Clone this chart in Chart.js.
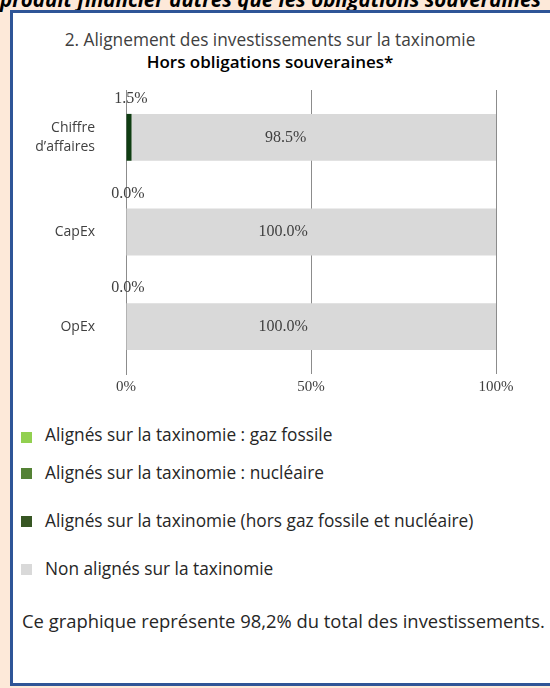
<!DOCTYPE html>
<html>
<head>
<meta charset="utf-8">
<script src="https://cdn.jsdelivr.net/npm/chart.js@4.4.1/dist/chart.umd.min.js"></script>
<style>
  body { margin: 0; width: 550px; height: 688px; background: #fde9d9; overflow: hidden; position: relative; font-family: "Open Sans", sans-serif; }
  #top { position: absolute; left: 0; top: -15px; white-space: nowrap; font: italic bold 20.5px "Open Sans", sans-serif; color: #000; }
  #box { position: absolute; left: 10px; top: 10px; width: 560px; height: 670px; background: #fff; border: 3px solid #2f5597; }
  #t1 { position: absolute; left: 0; width: 540px; top: 28px; text-align: center; font-size: 17.3px; color: #404040; }
  #t2 { position: absolute; left: 0; width: 540px; top: 50px; text-align: center; font-size: 17px; font-weight: 600; color: #000; }
  #myChart { position: absolute; left: 0; top: 80px; }
  #legend { position: absolute; left: 21px; top: 424px; font-size: 17.3px; color: #262626; }
  #legend div { position: relative; height: 22px; line-height: 22px; padding-left: 24px; white-space: nowrap; }
  #legend div span { position: absolute; left: 0; top: 6px; width: 11px; height: 11px; }
  #legend div:nth-child(1) span { top: 8px; }
  #legend div:nth-child(2) { margin-top: 16px; }
  #legend div:nth-child(3) { margin-top: 26px; }
  #legend div:nth-child(4) { margin-top: 26px; }
  #foot { position: absolute; left: 22px; top: 608px; font-size: 18.4px; color: #262626; white-space: nowrap; }
</style>
</head>
<body>
<div id="top">produit financier autres que les obligations souveraines</div>
<div id="box"></div>
<div id="t1">2. Alignement des investissements sur la taxinomie</div>
<div id="t2">Hors obligations souveraines*</div>
<canvas id="myChart" width="550" height="324"></canvas>
<div id="legend"></div>
<div id="foot">Ce graphique représente 98,2% du total des investissements.</div>
<script>
const categories = [["Chiffre", "d\u2019affaires"], "CapEx", "OpEx"];
const gazFossile = [0, 0, 0];
const nucleaire = [0, 0, 0];
const horsGazNucleaire = [1.5, 0, 0];
const nonAlignes = [98.5, 100, 100];
const xTicks = [0, 50, 100];

// labels: dark green above the bar, grey inside (left of centre like the original)
const labelPlugin = {
  id: "labels",
  afterDatasetsDraw(chart) {
    const ctx = chart.ctx;
    ctx.save();
    ctx.font = "16px 'Liberation Serif', serif";
    ctx.fillStyle = "#404040";
    ctx.textAlign = "center";
    ctx.textBaseline = "middle";
    chart.getDatasetMeta(2).data.forEach((bar, i) => {
      const x = (bar.x + bar.base) / 2 + 2;
      ctx.fillText(horsGazNucleaire[i].toFixed(1) + "%", x, bar.y - bar.height / 2 - 15);
    });
    chart.getDatasetMeta(3).data.forEach((bar, i) => {
      const x = (bar.x + bar.base) / 2 - 28;
      ctx.fillText(nonAlignes[i].toFixed(1) + "%", x, bar.y);
    });
    ctx.restore();
  }
};

const chart = new Chart("myChart", {
  type: "bar",
  data: {
    labels: categories,
    datasets: [{
      label: "Alignés sur la taxinomie : gaz fossile",
      data: gazFossile,
      backgroundColor: "#92d050"
    },{
      label: "Alignés sur la taxinomie : nucléaire",
      data: nucleaire,
      backgroundColor: "#548235"
    },{
      label: "Alignés sur la taxinomie (hors gaz fossile et nucléaire)",
      data: horsGazNucleaire,
      backgroundColor: "#0f3d12",
      legendColor: "#375623"
    },{
      label: "Non alignés sur la taxinomie",
      data: nonAlignes,
      backgroundColor: "#d9d9d9"
    }]
  },
  options: {
    responsive: false,
    indexAxis: "y",
    animation: false,
    layout: {padding: {left: 0, right: 54, top: 10, bottom: 4}},
    datasets: {bar: {categoryPercentage: 1, barPercentage: 0.495}},
    plugins: {legend: {display: false}, tooltip: {enabled: false}},
    scales: {
      x: {
        stacked: true,
        min: 0,
        max: 100,
        afterBuildTicks: (s) => { s.ticks = xTicks.map(v => ({value: v})); },
        grid: {color: "#8c8c8c", drawTicks: false},
        border: {display: false},
        ticks: {
          padding: 4,
          color: "#404040",
          font: {family: "'Liberation Serif', serif", size: 15},
          callback: (v) => v + "%"
        }
      },
      y: {
        stacked: true,
        afterFit: (s) => { s.width = 126; },
        // invisible tick marks just push the labels away from the axis
        grid: {color: "rgba(0,0,0,0)", drawOnChartArea: false, drawTicks: true, tickLength: 31},
        border: {display: true, color: "#8c8c8c"},
        ticks: {
          padding: 0,
          color: "#404040",
          font: {family: "'Open Sans', sans-serif", size: 14, lineHeight: 1.35}
        }
      }
    }
  },
  plugins: [labelPlugin]
});

const legendBox = document.getElementById("legend");
chart.data.datasets.forEach(ds => {
  const item = document.createElement("div");
  const sw = document.createElement("span");
  sw.style.background = ds.legendColor || ds.backgroundColor;
  item.appendChild(sw);
  item.appendChild(document.createTextNode(ds.label));
  legendBox.appendChild(item);
});
</script>
</body>
</html>
